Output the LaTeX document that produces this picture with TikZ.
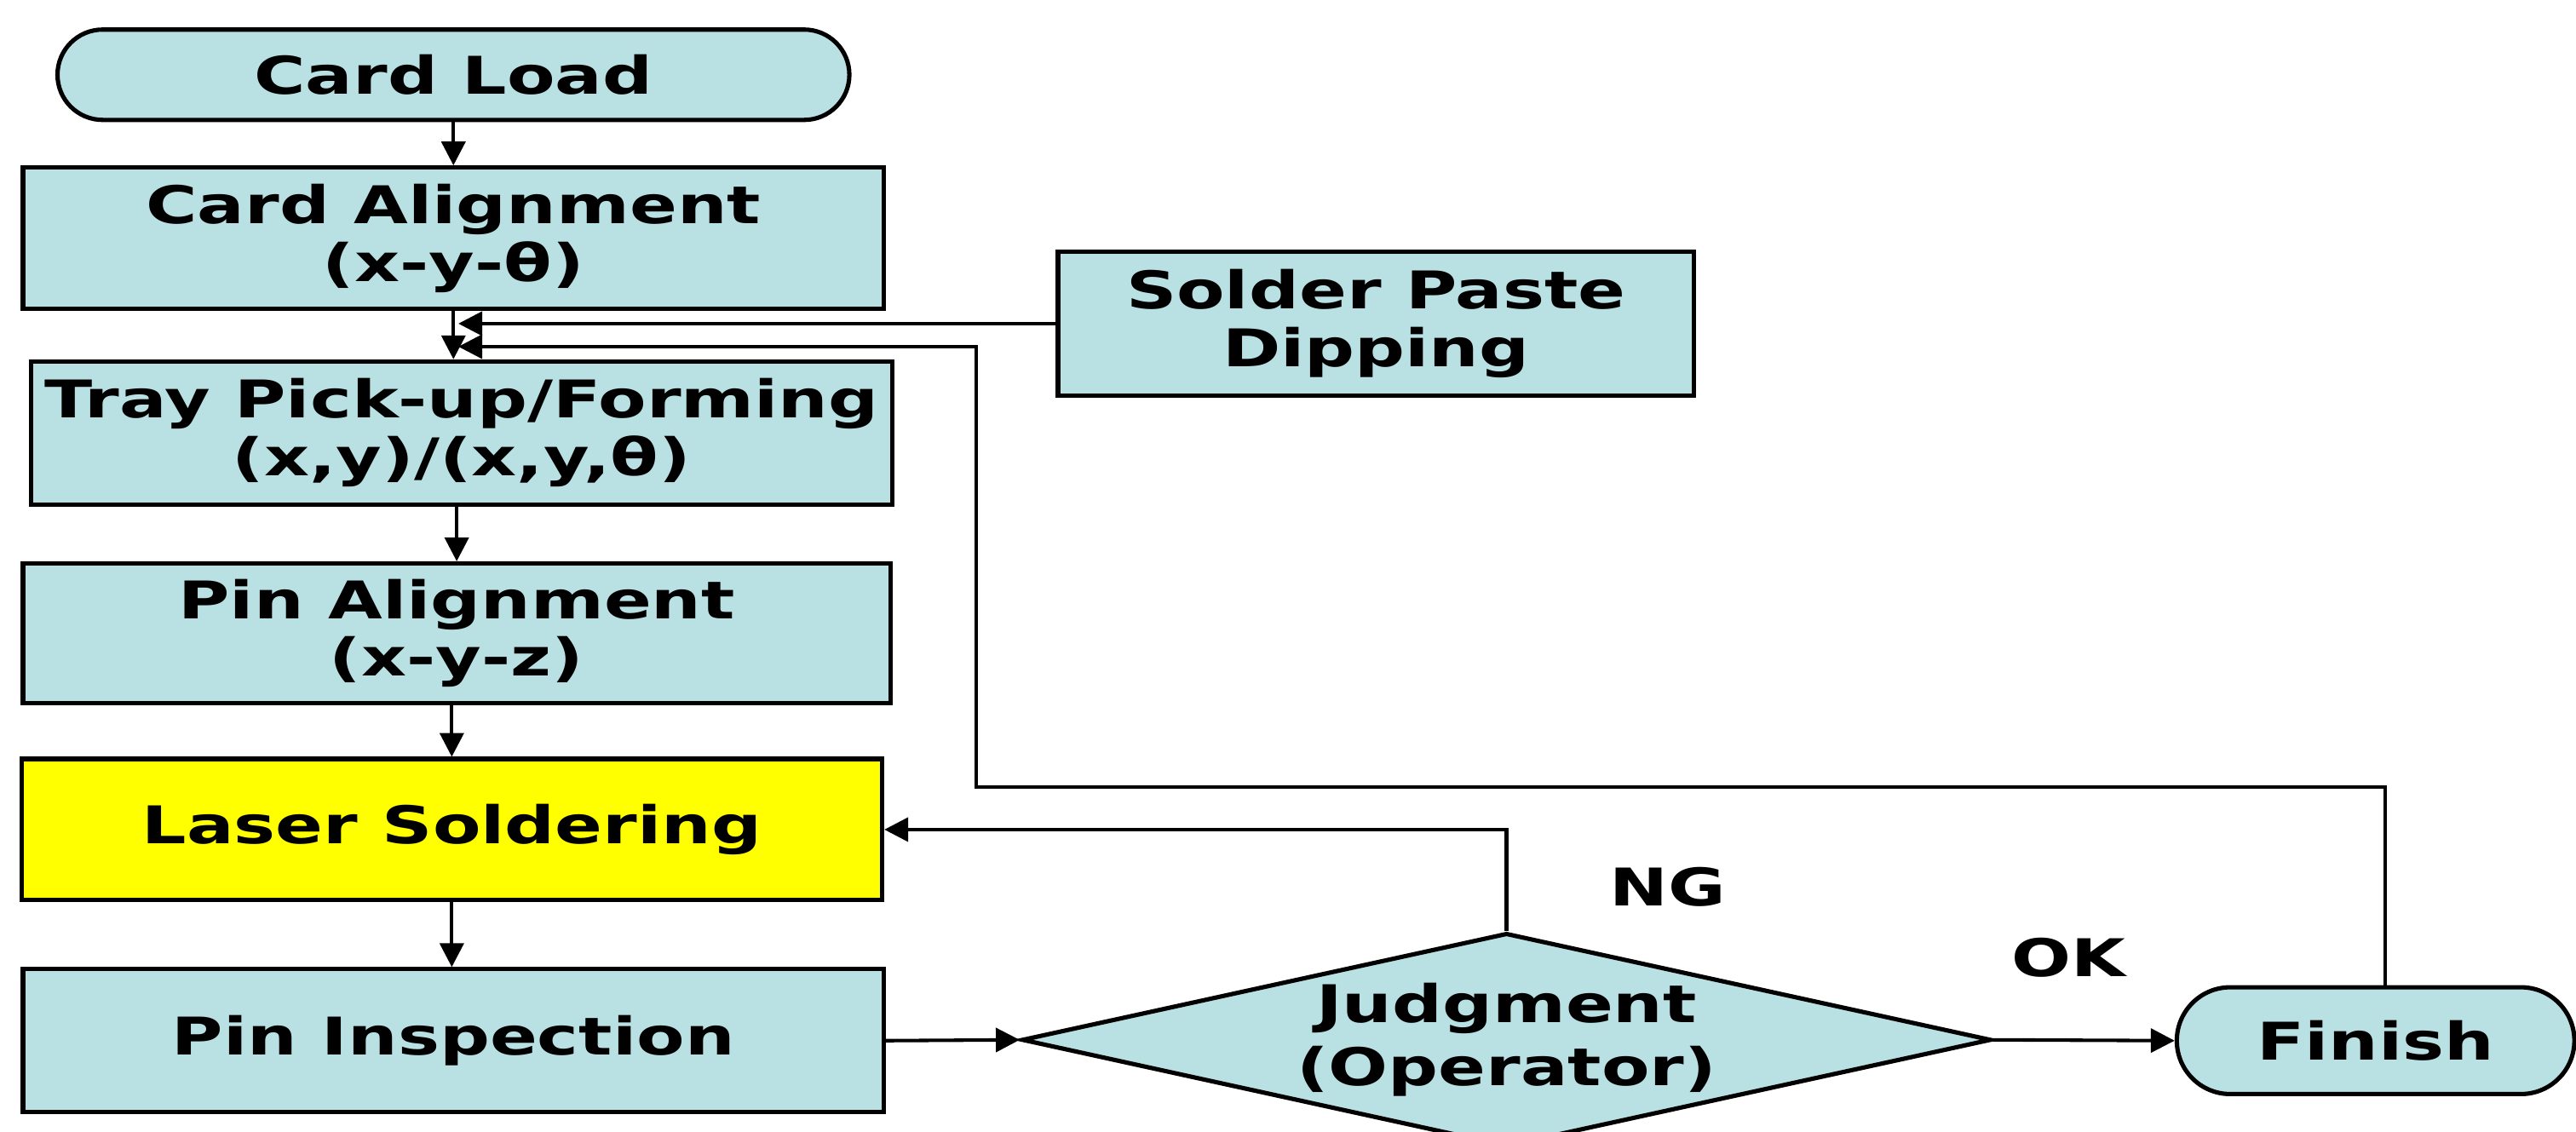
\documentclass[tikz,border=0pt]{standalone}
\usepackage{fontspec}
\setmainfont{DejaVu Sans}[FakeStretch=1.35]
\usepackage{tikz}
\usetikzlibrary{shapes.geometric,arrows.meta}

\definecolor{boxblue}{RGB}{185,224,227}
\definecolor{boxyellow}{RGB}{255,255,0}

\tikzset{
    every node/.append style={font=\bfseries\fontsize{18}{20}\selectfont, align=center},
    stepbox/.style={draw, line width=1.5pt, fill=boxblue, inner sep=0pt},
    termbox/.style={stepbox, rounded corners=5.5mm},
    flow/.style={-{Triangle[length=2.9mm,width=2.9mm]}, line width=1.2pt},
}

\begin{document}
\begin{tikzpicture}[x=0.2mm,y=-0.2mm]
    \useasboundingbox (0,0) rectangle (1568,689);

    % main column
    \node[termbox, minimum width=96.4mm, minimum height=11mm] (load) at (276,45.5) {Card Load};
    \node[stepbox, minimum width=104.8mm, minimum height=17.2mm] (align) at (276,145) {Card Alignment\\(x-y-θ)};
    \node[stepbox, minimum width=104.8mm, minimum height=17.4mm] (tray) at (281,263.5) {Tray Pick-up/Forming\\(x,y)/(x,y,θ)};
    \node[stepbox, minimum width=105.6mm, minimum height=17mm] (pin) at (278,385.5) {Pin Alignment\\(x-y-z)};
    \node[stepbox, fill=boxyellow, minimum width=104.8mm, minimum height=17.2mm] (laser) at (275,505) {Laser Soldering};
    \node[stepbox, minimum width=104.8mm, minimum height=17.4mm] (insp) at (276,633.5) {Pin Inspection};

    % side steps
    \node[stepbox, minimum width=77.4mm, minimum height=17.6mm] (paste) at (837.5,197) {Solder Paste\\Dipping};
    \node[stepbox, diamond, aspect=4.5, minimum width=118mm, minimum height=26mm] (judge) at (917,633) {Judgment\\[2pt](Operator)};
    \node[termbox, rounded corners=6.5mm, minimum width=48.4mm, minimum height=13mm] (finish) at (1446,633.5) {Finish};

    \node (ng) at (1015,540) {NG};
    \node (ok) at (1259,583) {OK};

    \coordinate (dip) at (279,197);
    \coordinate (back) at (279,211);

    \draw[flow] (load) -- (align);
    \draw[flow] (align.south) -- (align.south |- tray.north);
    \draw[flow] (tray.south -| pin.north) -- (pin.north);
    \draw[flow] (pin.south -| laser.north) -- (laser.north);
    \draw[flow] (laser.south) -- (laser.south |- insp.north);
    \draw[flow] (insp.east) -- (judge.west);
    \draw[flow] (judge.east) -- (finish.west);
    \draw[flow] (judge.north) |- (laser.east);
    \draw[flow] (paste.west) -- (dip);
    \draw[flow] ([xshift=1.2mm]finish.north) |- (594,479) |- (back);
\end{tikzpicture}
\end{document}
